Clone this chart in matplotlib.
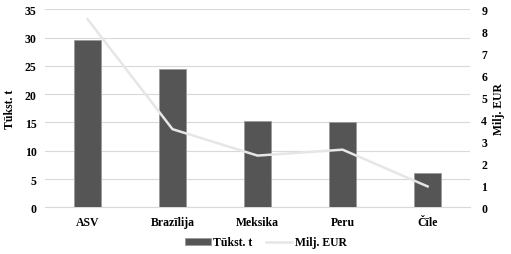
import matplotlib
matplotlib.use("Agg")
import matplotlib.pyplot as plt
import numpy as np

countries = ["ASV", "Brazīlija", "Meksika", "Peru", "Čīle"]
tonnes = [29.5, 24.5, 15.3, 15.0, 6.0]        # Tūkst. t
eur = [8.55, 3.55, 2.35, 2.62, 0.95]          # Milj. EUR

plt.rcParams["font.family"] = ["Liberation Serif", "DejaVu Serif"]
plt.rcParams["font.weight"] = "bold"
plt.rcParams["axes.labelweight"] = "bold"
plt.rcParams["font.size"] = 8.5

fig = plt.figure(figsize=(5.11, 2.55), dpi=100)
ax = fig.add_axes([0.088, 0.183, 0.832, 0.777])
x = np.arange(len(countries))

ax.bar(x, tonnes, width=0.32, color="#555555", edgecolor="#9a9a9a", linewidth=0.6,
       label="Tūkst. t", zorder=3)
ax.set_xlim(-0.5, len(countries) - 0.5)
ax.set_ylim(0, 35)
ax.set_yticks(range(0, 36, 5))
ax.set_xticks(x)
ax.set_xticklabels(countries)
ax.grid(axis="y", color="#d9d9d9", linewidth=0.8, zorder=0)
ax.set_ylabel("Tūkst. t", labelpad=6)
for s in ["top", "right", "left"]:
    ax.spines[s].set_visible(False)
ax.spines["bottom"].set_color("#d9d9d9")
ax.tick_params(length=0, pad=6)

ax2 = ax.twinx()
ax2.plot(x, eur, color="#e6e6e6", linewidth=1.8, label="Milj. EUR", zorder=4)
ax2.set_ylim(0, 9)
ax2.set_yticks(range(0, 10))
ax2.set_ylabel("Milj. EUR", labelpad=4)
for s in ax2.spines.values():
    s.set_visible(False)
ax2.tick_params(length=0, pad=8)

h1, l1 = ax.get_legend_handles_labels()
h2, l2 = ax2.get_legend_handles_labels()
fig.legend(h1 + h2, l1 + l2, loc="lower center", bbox_to_anchor=(0.52, -0.02),
           ncol=2, frameon=False, handlelength=2.2, handleheight=0.5,
           columnspacing=1.2, handletextpad=0.2)

fig.savefig("out.png", dpi=100)
